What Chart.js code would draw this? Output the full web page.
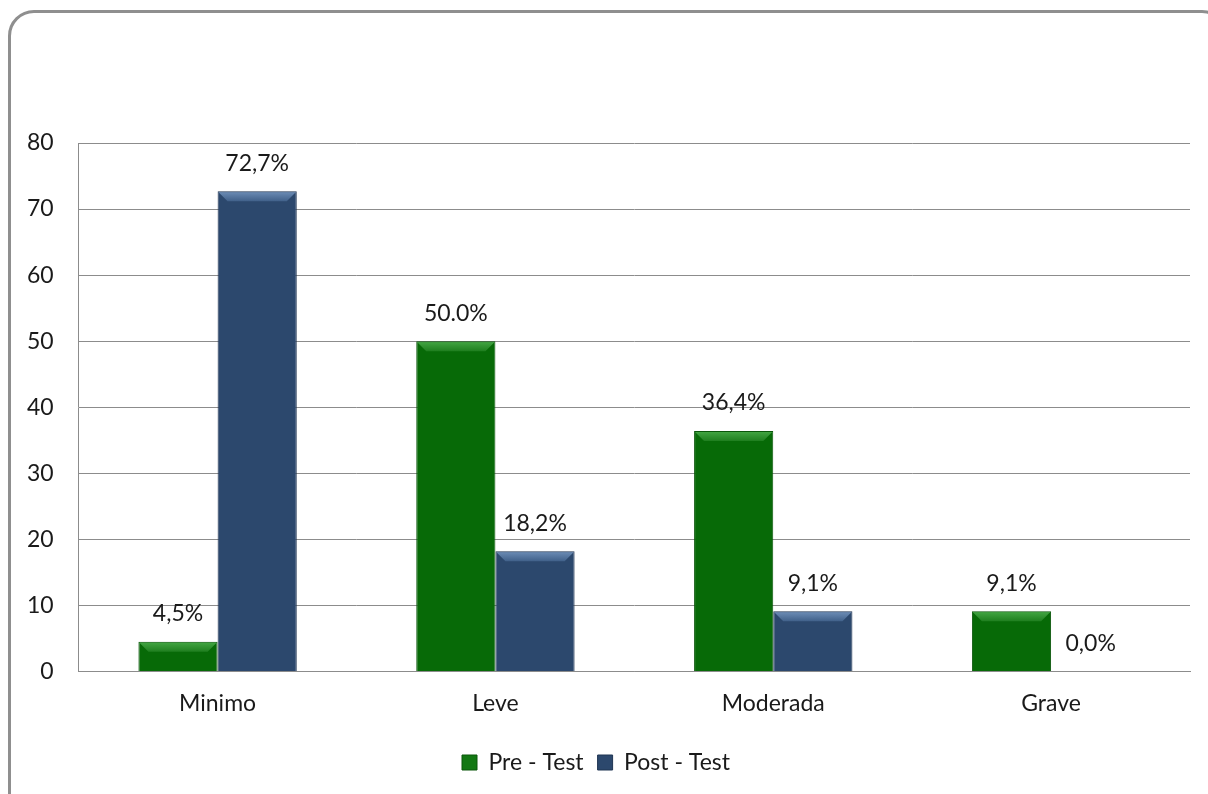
<!DOCTYPE html>
<html>
<head>
<meta charset="utf-8">
<script src="https://cdn.jsdelivr.net/npm/chart.js@4"></script>
<style>
    html, body { margin: 0; padding: 0; background: #fff; overflow: hidden; }
    #frame {
        position: absolute; left: 8px; top: 10px; width: 1220px; height: 820px;
        border: 3px solid #8f8f8f; border-radius: 26px; box-sizing: border-box;
    }
    #wrap { position: absolute; left: 0; top: 0; width: 1208px; height: 794px; }
</style>
</head>
<body>
<div id="frame"></div>
<div id="wrap"><canvas id="chart"></canvas></div>
<script>
const categories = ["Minimo", "Leve", "Moderada", "Grave"];
const preTest = [4.5, 50.0, 36.4, 9.1];
const postTest = [72.7, 18.2, 9.1, 0.0];
const preLabels = ["4,5%", "50.0%", "36,4%", "9,1%"];
const postLabels = ["72,7%", "18,2%", "9,1%", "0,0%"];
const yTicks = [0, 10, 20, 30, 40, 50, 60, 70, 80];

const FONT = "Lato, 'Open Sans', sans-serif";
const FONT_SIZE = 23;
const TEXT = "#1a1a1a";

function barFill(base, dark) {
    return function(context) {
        const bar = context.element;
        const ctx = context.chart.ctx;
        if (!bar || !bar.width) return base;
        const x0 = bar.x - bar.width / 2;
        const g = ctx.createLinearGradient(x0, 0, x0 + bar.width, 0);
        g.addColorStop(0, dark);
        g.addColorStop(0.08, base);
        g.addColorStop(0.92, base);
        g.addColorStop(1, dark);
        return g;
    };
}

// bevel on top of each bar + value labels above
const bevelAndLabels = {
    id: 'bevelAndLabels',
    afterDatasetsDraw(chart) {
        const ctx = chart.ctx;
        const tops = [["#45a845", "#1f7f1f"], ["#6f8fb8", "#41618a"]];
        const texts = [preLabels, postLabels];
        chart.data.datasets.forEach((ds, di) => {
            chart.getDatasetMeta(di).data.forEach((bar, i) => {
                const h = bar.base - bar.y;
                const x0 = bar.x - bar.width / 2, x1 = bar.x + bar.width / 2;
                if (h > 2) {
                    const b = Math.min(10, h / 2);
                    ctx.save();
                    const g = ctx.createLinearGradient(0, bar.y, 0, bar.y + b);
                    g.addColorStop(0, tops[di][0]);
                    g.addColorStop(1, tops[di][1]);
                    ctx.fillStyle = g;
                    ctx.beginPath();
                    ctx.moveTo(x0 + 1, bar.y + 1);
                    ctx.lineTo(x1 - 1, bar.y + 1);
                    ctx.lineTo(x1 - b, bar.y + b);
                    ctx.lineTo(x0 + b, bar.y + b);
                    ctx.closePath();
                    ctx.fill();
                    ctx.restore();
                }
                ctx.save();
                ctx.font = FONT_SIZE + "px " + FONT;
                ctx.fillStyle = TEXT;
                ctx.textAlign = "center";
                ctx.textBaseline = "middle";
                ctx.fillText(texts[di][i], bar.x, bar.y - 28);
                ctx.restore();
            });
        });
    }
};

new Chart(document.getElementById("chart"), {
    type: "bar",
    data: {
        labels: categories,
        datasets: [
            {
                label: "Pre - Test",
                data: preTest,
                backgroundColor: barFill("#076a07", "#044a04"),
                borderColor: "#0a560a",
                borderWidth: 1,
                categoryPercentage: 0.57,
                barPercentage: 1.0
            },
            {
                label: "Post - Test",
                data: postTest,
                backgroundColor: barFill("#2c486d", "#1b2f4a"),
                borderColor: "#1f3452",
                borderWidth: 1,
                categoryPercentage: 0.57,
                barPercentage: 1.0
            }
        ]
    },
    options: {
        responsive: true,
        maintainAspectRatio: false,
        animation: false,
        layout: { padding: { left: 2, right: 18, top: 143, bottom: 10 } },
        plugins: {
            tooltip: { enabled: false },
            legend: {
                position: "bottom",
                labels: {
                    font: { size: FONT_SIZE, family: FONT },
                    color: TEXT,
                    boxWidth: 15,
                    boxHeight: 15,
                    padding: 14,
                    generateLabels(chart) {
                        const fills = ["#137813", "#2c486d"];
                        const borders = ["#0a560a", "#1f3452"];
                        return chart.data.datasets.map((ds, i) => ({
                            text: ds.label,
                            fillStyle: fills[i],
                            strokeStyle: borders[i],
                            lineWidth: 1,
                            datasetIndex: i,
                            fontColor: TEXT
                        }));
                    }
                }
            }
        },
        scales: {
            x: {
                grid: { display: false },
                border: { display: true, color: "#8c8c8c", width: 1 },
                ticks: { font: { size: FONT_SIZE, family: FONT }, color: TEXT, padding: 10 },
                afterFit(scale) { scale.height += 10; }
            },
            y: {
                min: 0,
                max: 80,
                afterBuildTicks(axis) { axis.ticks = yTicks.map(v => ({ value: v })); },
                grid: { color: "#8c8c8c", drawTicks: false, lineWidth: 1 },
                border: { display: true, color: "#8c8c8c", width: 1 },
                ticks: { font: { size: FONT_SIZE, family: FONT }, color: TEXT, padding: 25 }
            }
        }
    },
    plugins: [bevelAndLabels]
});
</script>
</body>
</html>
